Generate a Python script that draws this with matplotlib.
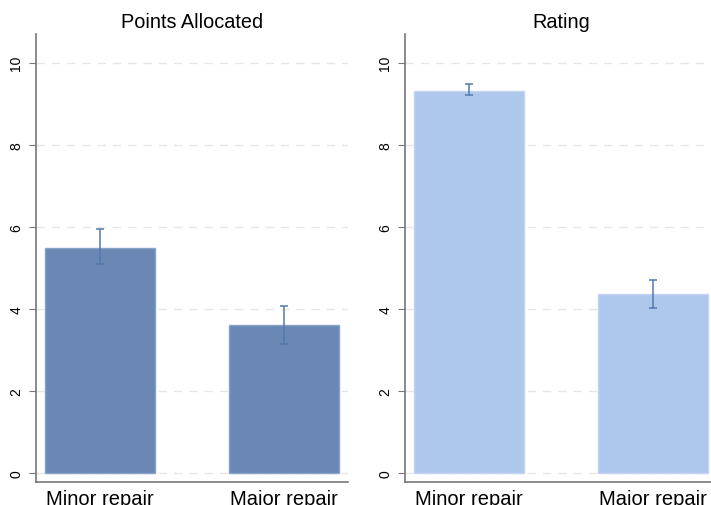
import matplotlib.pyplot as plt

categories = ["Minor repair", "Major repair"]
points_mean = [5.49, 3.60]
points_lo = [5.10, 3.15]
points_hi = [5.95, 4.07]
rating_mean = [9.32, 4.35]
rating_lo = [9.20, 4.02]
rating_hi = [9.48, 4.71]

plt.rcParams['font.family'] = ['Liberation Sans', 'DejaVu Sans']

fig = plt.figure(figsize=(7.11, 5.06), dpi=100)
ax1 = fig.add_axes([0.0506, 0.0455, 0.4388, 0.8855])
ax2 = fig.add_axes([0.5696, 0.0455, 0.4388, 0.8855])

panels = [
    (ax1, "Points Allocated", points_mean, points_lo, points_hi, "#6a88b3", "#89a3c8"),
    (ax2, "Rating", rating_mean, rating_lo, rating_hi, "#aec7ec", "#c3d5f0"),
]

for ax, title, mean, lo, hi, color, edge in panels:
    x = list(range(len(categories)))
    ax.bar(x, mean, width=0.6, color=color, edgecolor=edge, linewidth=1, zorder=2)
    yerr = [[m - l for m, l in zip(mean, lo)], [h - m for m, h in zip(mean, hi)]]
    ax.errorbar(x, mean, yerr=yerr, fmt='none', ecolor="#5479ad", elinewidth=1.1,
                capsize=3, capthick=1.1, zorder=3)
    ax.set_xlim(-0.35, 1.35)
    ax.set_ylim(-0.22, 10.7)
    ax.set_yticks([0, 2, 4, 6, 8, 10])
    ax.set_yticklabels(["0", "2", "4", "6", "8", "10"], rotation=90, va='center', fontsize=10)
    ax.yaxis.grid(True, linestyle=(0, (6, 5)), color="#e6e6e6", linewidth=1, zorder=0)
    ax.set_xticks(x)
    ax.set_xticklabels(categories, fontsize=14.5)
    ax.tick_params(axis='x', length=0, pad=5)
    ax.tick_params(axis='y', length=5, color="#777777", pad=4)
    for s in ['top', 'right']:
        ax.spines[s].set_visible(False)
    for s in ['left', 'bottom']:
        ax.spines[s].set_color("#777777")
        ax.spines[s].set_linewidth(1.2)
    ax.set_title(title, fontsize=14.3, pad=5)

fig.savefig("out.png", dpi=100)
